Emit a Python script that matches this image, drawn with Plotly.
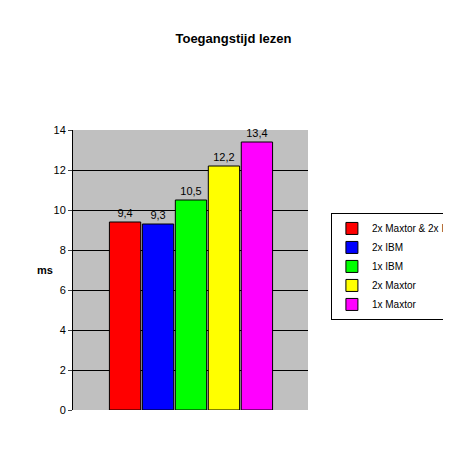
import plotly.graph_objects as go

names = ["2x Maxtor & 2x IBM", "2x IBM", "1x IBM", "2x Maxtor", "1x Maxtor"]
values = [9.4, 9.3, 10.5, 12.2, 13.4]
colors = ["#ff0000", "#0000ff", "#00ff00", "#ffff00", "#ff00ff"]

fig = go.Figure()
for i, (n, v, c) in enumerate(zip(names, values, colors)):
    fig.add_trace(go.Bar(x=[i], y=[v], name=n, marker=dict(color=c, line=dict(color="black", width=1)),
                         width=0.95, text=[f"{v:.1f}".replace(".", ",")], textposition="outside",
                         textfont=dict(family="Arial", size=11, color="black"), cliponaxis=False))

fig.update_layout(
    width=451, height=469, paper_bgcolor="white", plot_bgcolor="#c0c0c0",
    margin=dict(l=65, r=151, t=122, b=67, autoexpand=False),
    title=dict(text="<b>Toegangstijd lezen</b>", x=0.5, xanchor="center", y=0.936, yanchor="middle",
               font=dict(family="Arial", size=13, color="black")),
    separators=",.",
    showlegend=True,
    legend=dict(xref="container", yref="container", x=0.716, xanchor="left", y=0.563, yanchor="top",
                bordercolor="black", borderwidth=1,
                font=dict(family="Arial", size=10, color="black"), bgcolor="white", tracegroupgap=0),
    xaxis=dict(range=[-1.58, 5.55], showticklabels=False, showgrid=False, zeroline=False, fixedrange=True),
    yaxis=dict(range=[0, 14], dtick=2, showgrid=True, gridcolor="black", gridwidth=1,
               showline=True, linecolor="black", ticks="outside", ticklen=4, zeroline=False,
               tickfont=dict(family="Arial", size=11, color="black")),
    annotations=[dict(text="<b>ms</b>", xref="paper", yref="paper", x=-0.16, y=0.5, showarrow=False,
                      font=dict(family="Arial", size=11, color="black"))],
)
fig.write_html("out.html")
